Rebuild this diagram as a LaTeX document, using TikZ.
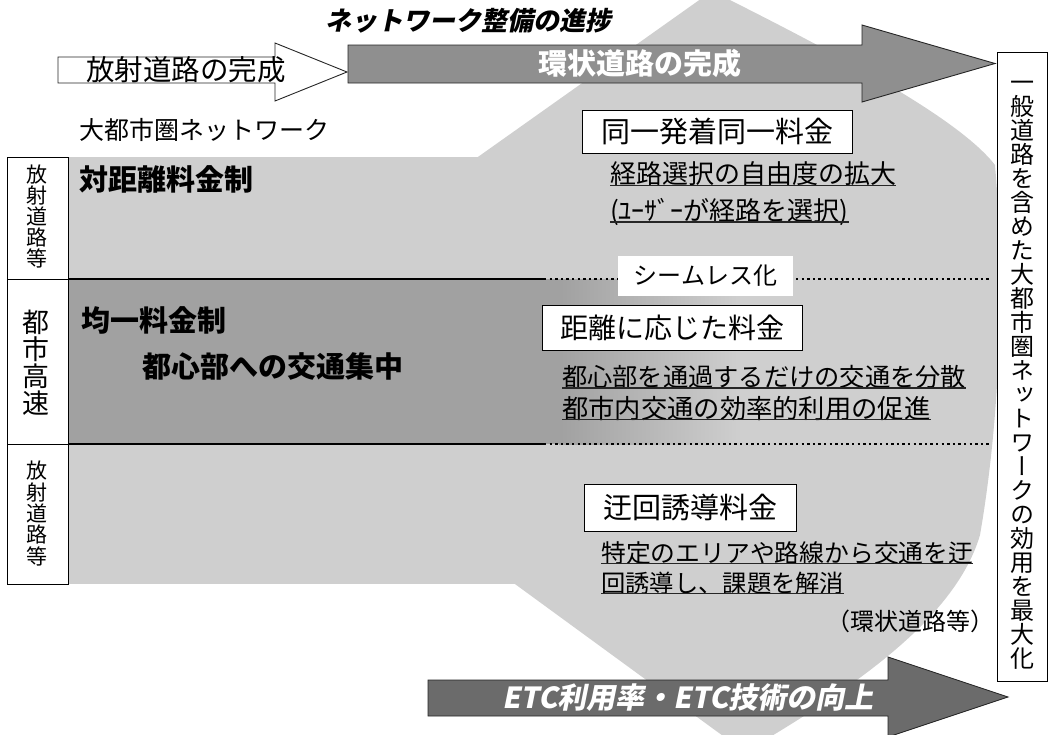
\documentclass[tikz,border=0pt]{standalone}
\usepackage{fontspec}
\setmainfont{Noto Sans CJK JP}
\newfontfamily\vjp[RawFeature=+vert]{Noto Sans CJK JP}
\newfontfamily\jpit[FakeSlant=0.2]{Noto Sans CJK JP}
\newcommand\jfs[2]{\fontsize{#1}{#2}\selectfont\lineskiplimit=-50pt\lineskip=0pt}
\definecolor{bgshape}{gray}{0.81}
\definecolor{rowdark}{gray}{0.63}
\definecolor{arrowgray}{gray}{0.56}
\definecolor{arrowdark}{gray}{0.42}
\begin{document}
\begin{tikzpicture}[x=1pt,y=-1pt,
  txt/.style={inner sep=0pt, anchor=west},
  ul/.style={line width=1.2pt, black!85},
  tbox/.style={draw, line width=0.9pt, fill=white, inner sep=0pt},
  vtext/.style={inner sep=0pt, align=center},
  solidline/.style={line width=2.4pt},
  dotline/.style={line width=2.4pt, dash pattern=on 2.4pt off 3.2pt},
  arrowline/.style={line width=0.9pt, draw=black!85}]
\useasboundingbox (0,0) rectangle (1052,734);
\clip (0,0) rectangle (1052,734);
% background shape
\fill[bgshape] (712,-9) .. controls (850,60) and (960,120) .. (995,165)
  .. controls (1005,280) and (1000,420) .. (980,535)
  .. controls (955,620) and (850,690) .. (745,752) -- (200,354) -- cycle;
% bands
\fill[bgshape] (68,157) rectangle (600,584);
\fill[rowdark] (68,279) rectangle (560,444);
\shade[left color=rowdark, right color=bgshape] (559,279) rectangle (740,444);
% divider lines
\coordinate (l1a) at (68,279); \coordinate (l1b) at (544,279); \coordinate (l1c) at (990,279);
\coordinate (l2a) at (68,444); \coordinate (l2b) at (544,444); \coordinate (l2c) at (990,444);
\draw[solidline] (l1a) -- (l1b);
\draw[dotline] (l1b) -- (l1c);
\draw[solidline] (l2a) -- (l2b);
\draw[dotline] (l2b) -- (l2c);
% left label boxes
\draw[line width=0.9pt, fill=white] (7,157) rectangle (68,584);
\draw[line width=0.9pt] (7,279) -- (68,279);
\draw[line width=0.9pt] (7,444) -- (68,444);
\node[vtext, font=\vjp\jfs{21}{21}] (lab1) at (37,216.5) {放\\射\\道\\路\\等};
\node[vtext, font=\vjp\jfs{27}{27}] (lab2) at (36,363) {都\\市\\高\\速};
\node[vtext, font=\vjp\jfs{21}{21.4}] (lab3) at (37,513.5) {放\\射\\道\\路\\等};
% right box
\draw[line width=0.9pt, fill=white] (997,52) rectangle (1047,681);
\node[vtext, font=\vjp\jfs{24}{24}] (rtext) at (1022,375)
 {一\\般\\道\\路\\を\\含\\め\\た\\大\\都\\市\\圏\\ネ\\ッ\\ト\\ワ\\ー\\ク\\の\\効\\用\\を\\最\\大\\化};
% arrows
\draw[arrowline, fill=white] (58,57) -- (275,57) -- (275,43) -- (347,72) -- (275,101) -- (275,83) -- (58,83) -- cycle;
\node[font=\jfs{28.5}{30}, inner sep=0pt] (a1) at (186,70) {放射道路の完成};
\draw[arrowline, fill=arrowgray] (348,45) -- (862,45) -- (862,25) -- (995,63.5) -- (862,102) -- (862,83) -- (348,83) -- cycle;
\node[font=\bfseries\jfs{29}{30}, text=white, inner sep=0pt] (a2) at (640,63.5) {環状道路の完成};
\draw[arrowline, fill=arrowdark] (428,680) -- (888,680) -- (888,657) -- (1008,697) -- (888,737) -- (888,716) -- (428,716) -- cycle;
\node[font=\jpit\bfseries\jfs{29}{30}, text=white, inner sep=0pt] (a3) at (688,698) {ETC利用率・ETC技術の向上};
% headings
\node[txt, font=\jpit\bfseries\jfs{26}{28}] (prog) at (325,21) {ネットワーク整備の進捗};
\node[txt, font=\jfs{25}{27}] (net) at (79,130) {大都市圏ネットワーク};
\node[txt, font=\bfseries\jfs{29}{30}] (r1) at (79,179) {対距離料金制};
\node[txt, font=\bfseries\jfs{29}{30}] (r2) at (81,320) {均一料金制};
\node[txt, font=\bfseries\jfs{29}{30}] (r2b) at (142,366) {都心部への交通集中};
% boxes
\node[tbox, minimum width=270pt, minimum height=43pt, font=\jfs{29}{30}] (b1) at (717,131.5) {同一発着同一料金};
\node[fill=white, inner sep=0pt, minimum width=175pt, minimum height=40pt, font=\jfs{24}{26}] (seam) at (705.5,276) {シームレス化};
\node[tbox, minimum width=260pt, minimum height=45pt, font=\jfs{28}{30}] (b2) at (672,327.5) {距離に応じた料金};
\node[tbox, minimum width=212pt, minimum height=47pt, font=\jfs{29}{30}] (b3) at (690,507.5) {迂回誘導料金};
% underlined texts
\node[txt, font=\jfs{26}{28}] (t1) at (610,174) {経路選択の自由度の拡大};
\node[txt, font=\jfs{26}{28}] (t2) at (610,212) {(ﾕｰｻﾞｰが経路を選択)};
\node[txt, font=\jfs{25.25}{27}] (t3) at (562,377) {都心部を通過するだけの交通を分散};
\node[txt, font=\jfs{26.3}{28}] (t4) at (562,408) {都市内交通の効率的利用の促進};
\node[txt, font=\jfs{24.8}{27}] (t5) at (601,553) {特定のエリアや路線から交通を迂};
\node[txt, font=\jfs{24.3}{26}] (t6) at (601,583) {回誘導し、課題を解消};
\foreach \n in {t1,t2,t3,t4,t5,t6}
  \draw[ul] ([yshift=-1.5pt]\n.base west) -- ([yshift=-1.5pt]\n.base east);
\node[txt, font=\jfs{24}{26}] (t7) at (826,621) {（環状道路等）};
\end{tikzpicture}
\end{document}
